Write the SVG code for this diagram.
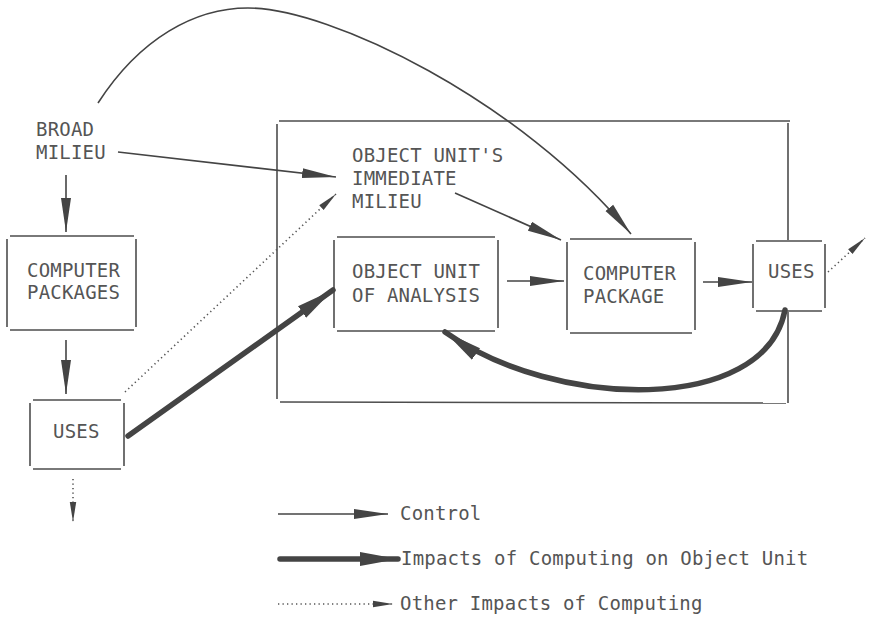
<svg xmlns="http://www.w3.org/2000/svg" width="870" height="619" viewBox="0 0 870 619">
  <style>
    .lbl { font-family: "DejaVu Sans Mono", "Liberation Mono", monospace; font-size: 19px; letter-spacing: 0.2px; fill: #555; }
    .box line { stroke: #4d4d4d; stroke-width: 1.6; }
    .ctrl { fill: none; stroke: #444; stroke-width: 1.6; marker-end: url(#headCtrl); }
    .impact { fill: none; stroke: #444; stroke-width: 5.5; stroke-linecap: round; marker-end: url(#headImpact); }
    .other { fill: none; stroke: #555; stroke-width: 1.6; stroke-dasharray: 1.3 3.2; marker-end: url(#headOther); }
  </style>
  <defs>
    <marker id="headCtrl" markerUnits="userSpaceOnUse" markerWidth="36" markerHeight="12" refX="34" refY="6" orient="auto">
      <path d="M0,1 L34,6 L0,11 z" fill="#444"/>
    </marker>
    <marker id="headImpact" markerUnits="userSpaceOnUse" markerWidth="40" markerHeight="16" refX="38" refY="8" orient="auto">
      <path d="M0,1 L38,8 L0,15 z" fill="#444"/>
    </marker>
    <marker id="headOther" markerUnits="userSpaceOnUse" markerWidth="22" markerHeight="8" refX="20" refY="4" orient="auto">
      <path d="M0,0.8 L20,4 L0,7.2 z" fill="#444"/>
    </marker>
  </defs>

  <rect width="870" height="619" fill="#fff"/>

  <!-- enclosing frame around the object unit -->
  <g id="object-unit-frame" class="box">
    <line x1="279" y1="121" x2="790" y2="121"/>
    <line x1="277" y1="124" x2="277" y2="399"/>
    <line x1="280" y1="402" x2="786" y2="403"/>
    <line x1="788" y1="123" x2="788" y2="240"/>
    <line x1="788" y1="312" x2="788" y2="403"/>
  </g>

  <g id="broad-milieu">
    <text class="lbl" x="36" y="136">BROAD</text>
    <text class="lbl" x="36" y="159">MILIEU</text>
  </g>

  <g id="computer-packages" class="box">
    <line x1="10" y1="236" x2="134" y2="236"/>
    <line x1="7" y1="239" x2="7" y2="327"/>
    <line x1="136" y1="239" x2="136" y2="327"/>
    <line x1="10" y1="330" x2="134" y2="330"/>
    <text class="lbl" x="27" y="277">COMPUTER</text>
    <text class="lbl" x="27" y="299">PACKAGES</text>
  </g>

  <g id="uses-left" class="box">
    <line x1="33" y1="400" x2="121" y2="400"/>
    <line x1="30" y1="403" x2="30" y2="466"/>
    <line x1="124" y1="403" x2="124" y2="466"/>
    <line x1="33" y1="469" x2="121" y2="469"/>
    <text class="lbl" x="53" y="438">USES</text>
  </g>

  <g id="immediate-milieu">
    <text class="lbl" x="352" y="162">OBJECT UNIT'S</text>
    <text class="lbl" x="352" y="185">IMMEDIATE</text>
    <text class="lbl" x="352" y="208">MILIEU</text>
  </g>

  <g id="object-unit" class="box">
    <line x1="337" y1="237" x2="495" y2="237"/>
    <line x1="334" y1="240" x2="334" y2="328"/>
    <line x1="498" y1="240" x2="498" y2="328"/>
    <line x1="337" y1="331" x2="495" y2="331"/>
    <text class="lbl" x="352" y="278">OBJECT UNIT</text>
    <text class="lbl" x="352" y="302">OF ANALYSIS</text>
  </g>

  <g id="computer-package" class="box">
    <line x1="570" y1="239" x2="692" y2="239"/>
    <line x1="567" y1="242" x2="567" y2="330"/>
    <line x1="695" y1="242" x2="695" y2="330"/>
    <line x1="570" y1="333" x2="692" y2="333"/>
    <text class="lbl" x="583" y="280">COMPUTER</text>
    <text class="lbl" x="583" y="303">PACKAGE</text>
  </g>

  <g id="uses-right" class="box">
    <line x1="756" y1="241" x2="822" y2="241"/>
    <line x1="753" y1="244" x2="753" y2="308"/>
    <line x1="825" y1="244" x2="825" y2="308"/>
    <line x1="756" y1="311" x2="822" y2="311"/>
    <text class="lbl" x="768" y="278">USES</text>
  </g>

  <g id="connectors">
    <!-- control -->
    <path class="ctrl" d="M98,103 C140,38 195,8 248,8 C330,8 520,100 631,234"/>
    <path class="ctrl" d="M118,152 L336,177"/>
    <path class="ctrl" d="M66,175 L66,232"/>
    <path class="ctrl" d="M66,340 L66,394"/>
    <path class="ctrl" d="M455,193 L561,240"/>
    <path class="ctrl" d="M507,281 L564,281"/>
    <path class="ctrl" d="M703,282 L752,282"/>
    <!-- impacts on the object unit -->
    <path class="impact" d="M128,436 L333,290"/>
    <path class="impact" d="M785,310 C765,415 555,410 445,332"/>
    <!-- other impacts -->
    <path class="other" d="M125,392 L336,194"/>
    <path class="other" d="M828,272 L865,238"/>
    <path class="other" d="M73,479 L73,522"/>
  </g>

  <g id="legend">
    <path class="ctrl" d="M278,514 L388,514"/>
    <text class="lbl" x="400" y="520">Control</text>
    <path class="impact" d="M280,559 L398,559"/>
    <text class="lbl" x="401" y="565">Impacts of Computing on Object Unit</text>
    <path class="other" d="M278,604 L393,604"/>
    <text class="lbl" x="400" y="610">Other Impacts of Computing</text>
  </g>
</svg>
